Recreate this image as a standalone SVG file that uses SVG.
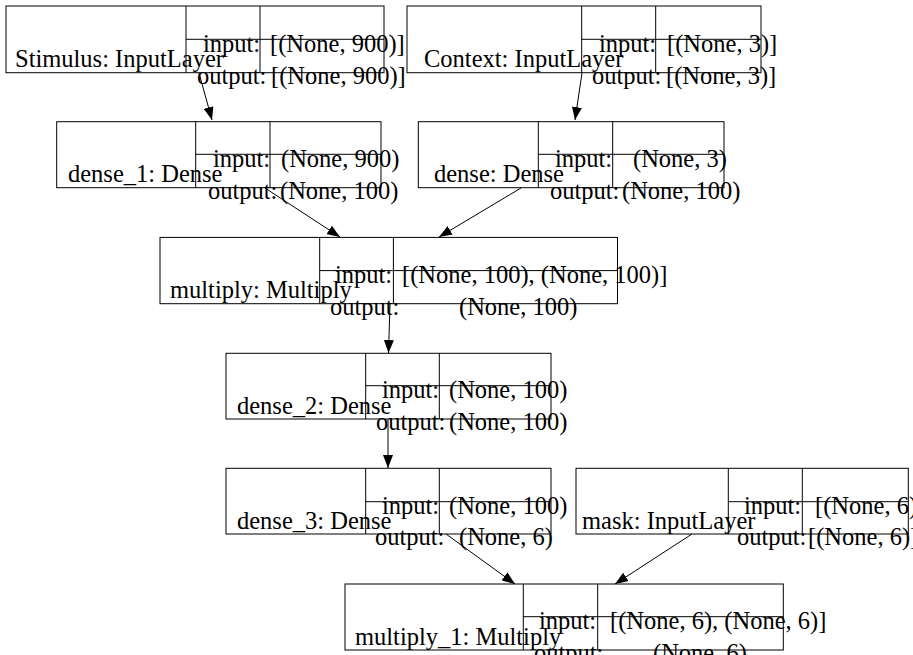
<svg xmlns="http://www.w3.org/2000/svg" width="913" height="655" viewBox="0 0 913 655">
<defs>
<marker id="ah" viewBox="0 0 13 10" refX="13" refY="5" markerWidth="13" markerHeight="10" markerUnits="userSpaceOnUse" orient="auto">
<path d="M0,0 L13,5 L0,10 z" fill="#000"/>
</marker>
<style>
rect{fill:none;stroke:#000;stroke-width:1}
line.d{stroke:#000;stroke-width:1}
text{font-family:"Liberation Serif","Times New Roman",serif;font-size:24.5px;fill:#000}
.e{stroke:#000;stroke-width:1;fill:none;marker-end:url(#ah)}
</style>
</defs>
<rect x="0" y="0" width="913" height="655" style="fill:#fff;stroke:none"/>
<g id="edges">
<line class="e" x1="199" y1="73" x2="212" y2="120"/>
<line class="e" x1="582" y1="73" x2="575" y2="120"/>
<line class="e" x1="265" y1="188" x2="340" y2="237"/>
<line class="e" x1="521" y1="188" x2="439" y2="237"/>
<line class="e" x1="390" y1="304" x2="388.5" y2="353"/>
<line class="e" x1="388" y1="419" x2="388" y2="468"/>
<line class="e" x1="446" y1="534" x2="515" y2="584"/>
<line class="e" x1="692" y1="534" x2="615" y2="584"/>
</g>
<g id="stimulus">
<rect x="6" y="6" width="378" height="66.7"/>
<line class="d" x1="186" y1="6" x2="186" y2="72.7"/>
<line class="d" x1="260" y1="6" x2="260" y2="72.7"/>
<line class="d" x1="186" y1="39.3" x2="384" y2="39.3"/>
<text x="15" y="67.2">Stimulus: InputLayer</text>
<text x="203" y="52">input:</text>
<text x="270" y="52">[(None, 900)]</text>
<text x="197" y="83.5">output:</text>
<text x="271" y="83.5">[(None, 900)]</text>
</g>
<g id="context">
<rect x="407" y="6" width="354" height="66.7"/>
<line class="d" x1="581.7" y1="6" x2="581.7" y2="72.7"/>
<line class="d" x1="655.7" y1="6" x2="655.7" y2="72.7"/>
<line class="d" x1="581.7" y1="39.3" x2="761" y2="39.3"/>
<text x="424" y="67.2">Context: InputLayer</text>
<text x="599" y="52">input:</text>
<text x="667" y="52">[(None, 3)]</text>
<text x="592" y="83.5">output:</text>
<text x="666" y="83.5">[(None, 3)]</text>
</g>
<g id="dense_1">
<rect x="56.7" y="121.7" width="324.3" height="66"/>
<line class="d" x1="195.7" y1="121.7" x2="195.7" y2="187.7"/>
<line class="d" x1="270" y1="121.7" x2="270" y2="187.7"/>
<line class="d" x1="195.7" y1="154.3" x2="381" y2="154.3"/>
<text x="68" y="182.2">dense_1: Dense</text>
<text x="213" y="166.8">input:</text>
<text x="281" y="166.8">(None, 900)</text>
<text x="208" y="198.5">output:</text>
<text x="280" y="198.5">(None, 100)</text>
</g>
<g id="dense">
<rect x="418.3" y="121.7" width="305.7" height="66"/>
<line class="d" x1="538.3" y1="121.7" x2="538.3" y2="187.7"/>
<line class="d" x1="612.7" y1="121.7" x2="612.7" y2="187.7"/>
<line class="d" x1="538.3" y1="154.3" x2="724" y2="154.3"/>
<text x="434" y="182.2">dense: Dense</text>
<text x="555" y="166.8">input:</text>
<text x="633" y="166.8">(None, 3)</text>
<text x="550" y="198.5">output:</text>
<text x="622" y="198.5">(None, 100)</text>
</g>
<g id="multiply">
<rect x="160" y="237.4" width="457.5" height="66.3"/>
<line class="d" x1="319.7" y1="237.4" x2="319.7" y2="303.7"/>
<line class="d" x1="393.4" y1="237.4" x2="393.4" y2="303.7"/>
<line class="d" x1="319.7" y1="270.6" x2="617.5" y2="270.6"/>
<text x="170" y="298.2">multiply: Multiply</text>
<text x="335" y="283.1">input:</text>
<text x="402" y="283.1">[(None, 100), (None, 100)]</text>
<text x="330" y="314.5">output:</text>
<text x="459" y="314.5">(None, 100)</text>
</g>
<g id="dense_2">
<rect x="226" y="353.3" width="325" height="65.7"/>
<line class="d" x1="365.7" y1="353.3" x2="365.7" y2="419"/>
<line class="d" x1="439.3" y1="353.3" x2="439.3" y2="419"/>
<line class="d" x1="365.7" y1="385.7" x2="551" y2="385.7"/>
<text x="237" y="413.5">dense_2: Dense</text>
<text x="382" y="398.2">input:</text>
<text x="449" y="398.2">(None, 100)</text>
<text x="376" y="430">output:</text>
<text x="449" y="430">(None, 100)</text>
</g>
<g id="dense_3">
<rect x="226" y="468.3" width="325" height="65.7"/>
<line class="d" x1="365.7" y1="468.3" x2="365.7" y2="534"/>
<line class="d" x1="439.3" y1="468.3" x2="439.3" y2="534"/>
<line class="d" x1="365.7" y1="501.7" x2="551" y2="501.7"/>
<text x="237" y="528.5">dense_3: Dense</text>
<text x="382" y="514.2">input:</text>
<text x="449" y="514.2">(None, 100)</text>
<text x="375" y="545">output:</text>
<text x="459" y="545">(None, 6)</text>
</g>
<g id="mask">
<rect x="576" y="468.3" width="332.3" height="65.7"/>
<line class="d" x1="728.3" y1="468.3" x2="728.3" y2="534"/>
<line class="d" x1="802.3" y1="468.3" x2="802.3" y2="534"/>
<line class="d" x1="728.3" y1="501.7" x2="908.3" y2="501.7"/>
<text x="582" y="528.5">mask: InputLayer</text>
<text x="744" y="514.2">input:</text>
<text x="815" y="514.2">[(None, 6)]</text>
<text x="737" y="545">output:</text>
<text x="808" y="545">[(None, 6)]</text>
</g>
<g id="multiply_1">
<rect x="345" y="584" width="438.3" height="66"/>
<line class="d" x1="523.3" y1="584" x2="523.3" y2="650"/>
<line class="d" x1="597.7" y1="584" x2="597.7" y2="650"/>
<line class="d" x1="523.3" y1="616.7" x2="783.3" y2="616.7"/>
<text x="355" y="644.5">multiply_1: Multiply</text>
<text x="539" y="629">input:</text>
<text x="610" y="629">[(None, 6), (None, 6)]</text>
<text x="534" y="661">output:</text>
<text x="653" y="661">(None, 6)</text>
</g>
</svg>
